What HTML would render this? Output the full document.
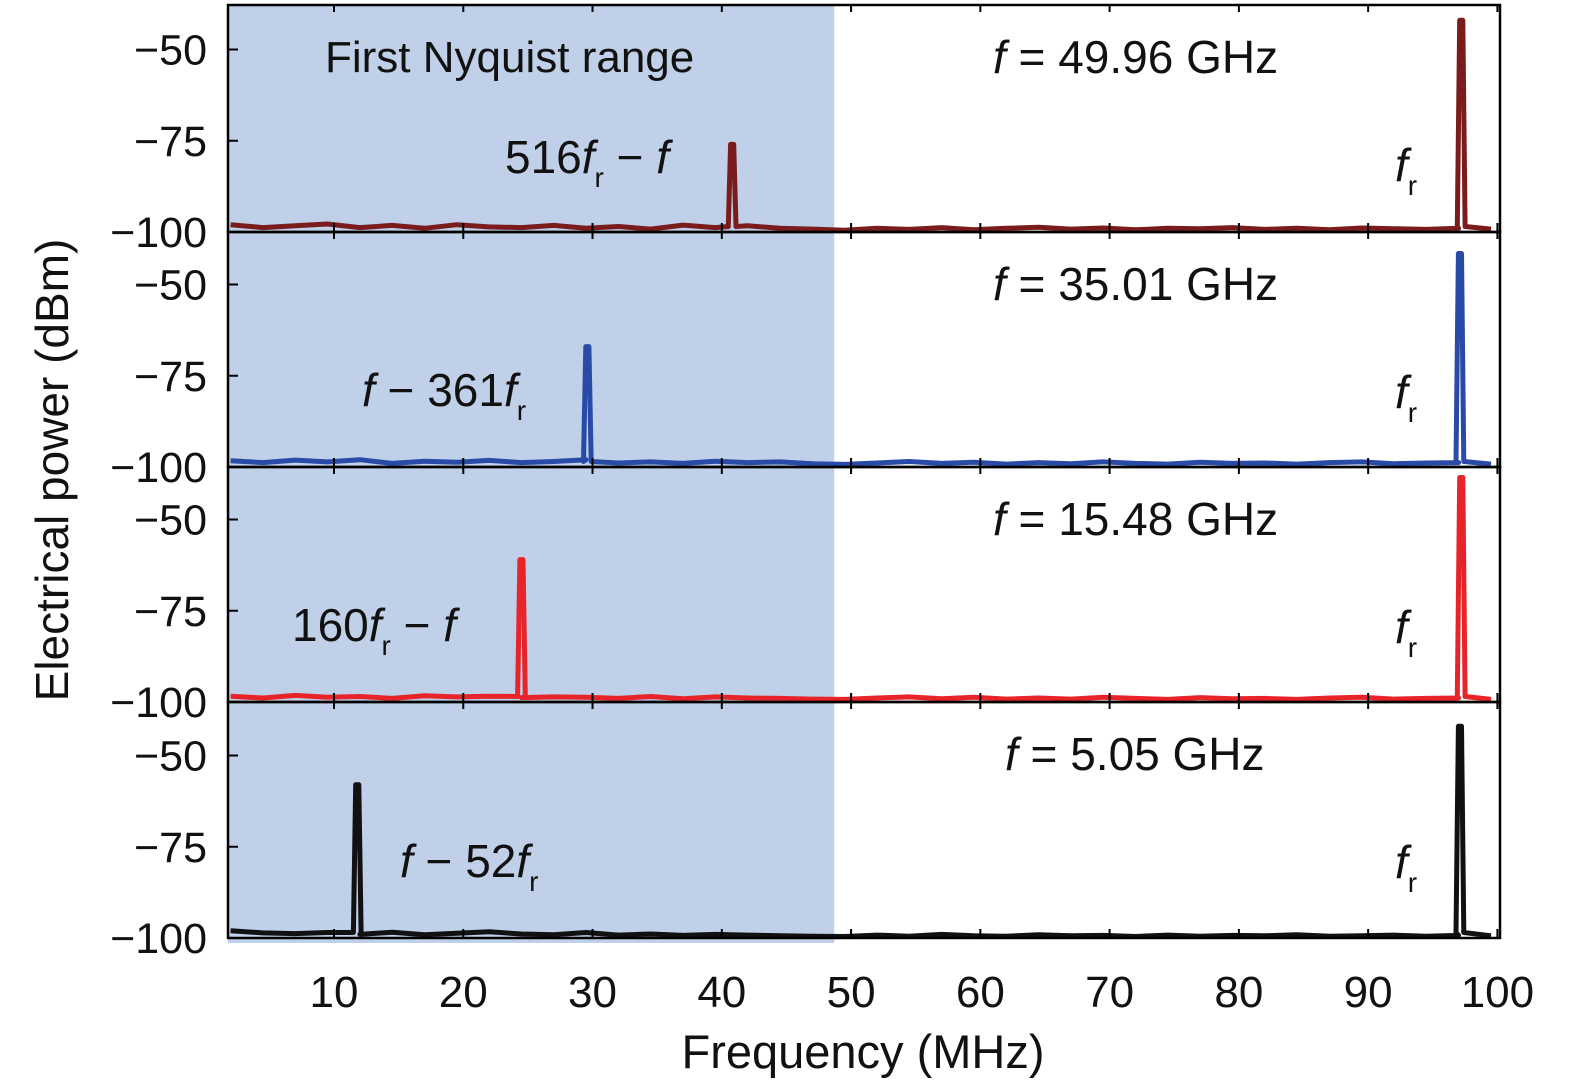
<!DOCTYPE html>
<html><head><meta charset="utf-8"><style>
html,body{margin:0;padding:0;background:#fff;}
svg{display:block;font-family:"Liberation Sans",sans-serif;}
</style></head><body>
<svg id="chart" width="1575" height="1085" viewBox="0 0 1575 1085" xmlns="http://www.w3.org/2000/svg"></svg>
<script>
const xTicks=[10,20,30,40,50,60,70,80,90,100];
const yTicks=[-50,-75,-100];
const panelNames=['panel-49-96ghz','panel-35-01ghz','panel-15-48ghz','panel-5-05ghz'];
const panelColors=['#7a1c1c','#2a4aa8','#e8242b','#111111'];
const freqLabels=['49.96','35.01','15.48','5.05'];
const mixFreq=[40.8,29.6,24.5,11.8];
const mixPower=[-76,-67,-61,-58];
const repFreq=[97.2,97.1,97.2,97.1];
const repPower=[-42,-41.5,-38.5,-42];
const noiseFreq=[2,4.5,7,9.5,12,14.5,17,19.5,22,24.5,27,29.5,32,34.5,37,39.5,42,44.5,47,49.5,52,54.5,57,59.5,62,64.5,67,69.5,72,74.5,77,79.5,82,84.5,87,89.5,92,94.5,97,99.5];
const noise0=[-98,-98.8,-98.3,-97.8,-98.8,-98.2,-99,-98,-98.6,-98.8,-98.2,-99,-98.5,-99.2,-98.1,-98.8,-98.3,-99,-99.2,-99.5,-99,-99.3,-98.8,-99.4,-99,-98.7,-99.2,-98.9,-99.4,-99,-99.1,-98.8,-99.3,-99,-99.4,-98.9,-99.1,-99.3,-99,-99.2];
const noise1=[-98.3,-98.8,-98.1,-98.6,-98,-99,-98.4,-98.7,-98.2,-98.8,-98.5,-98,-98.9,-98.6,-99,-98.4,-98.8,-98.6,-99.1,-99.3,-98.9,-98.5,-99,-98.7,-99.2,-98.8,-99.1,-98.6,-99,-99.2,-98.7,-99,-98.9,-99.2,-98.8,-98.6,-99.1,-98.9,-98.8,-99.2];
const noise2=[-98.4,-98.9,-98.2,-98.7,-98.5,-99,-98.3,-98.6,-98.4,-98.8,-98.6,-98.7,-99,-98.5,-99.1,-98.6,-98.9,-99,-99.2,-99.3,-98.9,-98.6,-99.1,-98.7,-99.2,-98.9,-99.2,-98.7,-99,-99.3,-98.8,-99.1,-99,-99.3,-98.9,-98.7,-99.2,-99,-98.9,-99.3];
const noise3=[-98,-98.6,-98.8,-98.5,-99,-98.4,-99.1,-98.7,-98.3,-98.9,-99.1,-98.5,-99.2,-98.9,-99.3,-99,-99.2,-99.4,-99.5,-99.6,-99.2,-99.5,-99,-99.4,-99.5,-99.1,-99.4,-99.3,-99.6,-99.2,-99.5,-99.3,-99.4,-99.1,-99.5,-99.4,-99.2,-99.5,-99.3,-99.4];
const noiseSets=[noise0,noise1,noise2,noise3];

const NS='http://www.w3.org/2000/svg';
const svg=document.getElementById('chart');
const X0=228,X1=1500,F0=1.8,F1=100.2;
const panelTops=[5,232,467,702],panelBots=[232,467,702,938];
const pxPerDb=3.65;
function xS(f){return X0+(f-F0)/(F1-F0)*(X1-X0);}
function yS(p,db){return panelBots[p]-(db+100)*pxPerDb;}
function mk(tag,attrs,parent){const e=document.createElementNS(NS,tag);for(const k in attrs)e.setAttribute(k,attrs[k]);(parent||svg).appendChild(e);return e;}

const shade=mk('rect',{x:X0,y:5,width:xS(48.7)-X0,height:938,fill:'#bfd0e8'});



for(let p=0;p<4;p++){
  const g=mk('g',{});
  
  
  const col=panelColors[p];
  let pts=[];
  const nf=noiseFreq,nv=noiseSets[p];
  const peaks=[[mixFreq[p],mixPower[p]],[repFreq[p],repPower[p]]];
  for(let i=0;i<nf.length;i++){
    pts.push([nf[i],nv[i]]);
    for(const pk of peaks){
      if(pk[0]>nf[i]&&(i+1>=nf.length||pk[0]<=nf[i+1])){
        pts.push([pk[0]-0.3,-98.5],[pk[0]-0.12,pk[1]],[pk[0]+0.12,pk[1]],[pk[0]+0.3,-98.5]);
      }
    }
  }
  const line=mk('polyline',{points:pts.map(q=>xS(q[0]).toFixed(1)+','+yS(p,q[1]).toFixed(1)).join(' '),fill:'none',stroke:col,'stroke-width':5,'stroke-linejoin':'round'},g);
  
  
  mk('rect',{x:X0,y:panelTops[p],width:X1-X0,height:panelBots[p]-panelTops[p],fill:'none',stroke:'#000','stroke-width':2.5},g);
  for(const t of xTicks){
    const x=xS(t);
    mk('line',{x1:x,x2:x,y1:panelBots[p],y2:panelBots[p]-9,stroke:'#000','stroke-width':2},g);
    mk('line',{x1:x,x2:x,y1:panelTops[p],y2:panelTops[p]+7,stroke:'#000','stroke-width':2},g);
  }
  for(const t of yTicks){
    const y=yS(p,t);
    mk('line',{x1:X0,x2:X0+10,y1:y,y2:y,stroke:'#000','stroke-width':2},g);
    const tl=mk('text',{x:207,y:y+15,'font-size':43,'text-anchor':'end',fill:'#111'},g);
    tl.textContent='\u2212'+Math.abs(t);
    
    
  }
  const ft=mk('text',{x:p===3?1005:993,y:panelTops[p]+68,'font-size':46,fill:'#111'},g);
  ft.innerHTML='<tspan font-style="italic">f</tspan> = '+freqLabels[p]+' GHz';
  
  
  const fr=mk('text',{x:1395,y:panelTops[p]+176,'font-size':46,fill:'#111'},g);
  fr.innerHTML='<tspan font-style="italic">f</tspan><tspan font-size="28" dy="14">r</tspan>';
  
  
}
const mixLabels=[
 [505,173,'516<tspan font-style="italic">f</tspan><tspan font-size="28" dy="14">r</tspan><tspan dy="-14"> \u2212 </tspan><tspan font-style="italic">f</tspan>'],
 [362,406,'<tspan font-style="italic">f</tspan> \u2212 361<tspan font-style="italic">f</tspan><tspan font-size="28" dy="14">r</tspan>'],
 [292,641,'160<tspan font-style="italic">f</tspan><tspan font-size="28" dy="14">r</tspan><tspan dy="-14"> \u2212 </tspan><tspan font-style="italic">f</tspan>'],
 [400,877,'<tspan font-style="italic">f</tspan> \u2212 52<tspan font-style="italic">f</tspan><tspan font-size="28" dy="14">r</tspan>']];
for(const m of mixLabels){
  const t=mk('text',{x:m[0],y:m[1],'font-size':46,fill:'#111'});
  t.innerHTML=m[2];
  
  
}
const ny=mk('text',{x:325,y:72,'font-size':44,fill:'#111'});
ny.textContent='First Nyquist range';


for(const t of xTicks){
  const l=mk('text',{x:xS(t),y:1007,'font-size':44,'text-anchor':'middle',fill:'#111'});
  l.textContent=t;
  
  
}
const xt=mk('text',{x:863,y:1068,'font-size':47,'text-anchor':'middle',fill:'#111'});
xt.textContent='Frequency (MHz)';


const yt=mk('text',{x:0,y:0,'font-size':46,'text-anchor':'middle',fill:'#111',transform:'translate(68,470) rotate(-90)'});
yt.textContent='Electrical power (dBm)';


</script>
</body></html>
